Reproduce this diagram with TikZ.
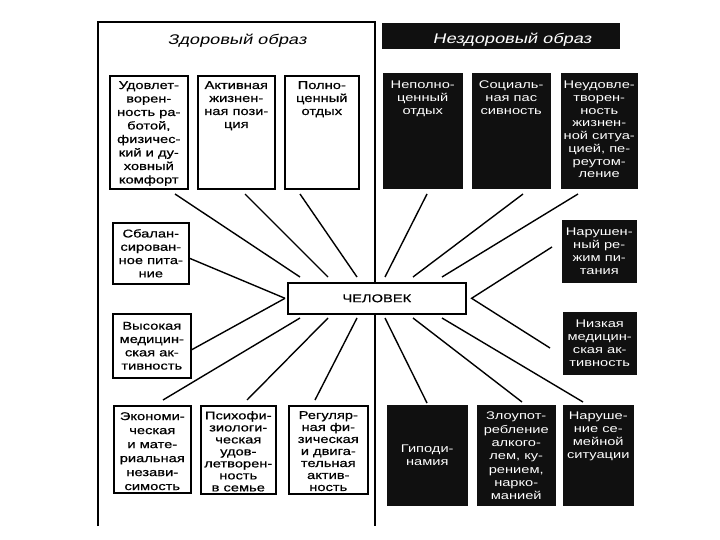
\documentclass[tikz,border=0pt]{standalone}
\usepackage{fontspec}
\setmainfont{Liberation Sans}
\newfontfamily\boxfont[FakeStretch=1.3,FakeBold=0.6]{Liberation Sans}
\newfontfamily\boxfontw[FakeStretch=1.32]{Liberation Sans}
\newfontfamily\headfont[FakeStretch=1.3,FakeSlant=0.22]{Liberation Sans}
\definecolor{boxblack}{HTML}{101010}
\tikzset{
  frame/.style={line width=1.8pt, black},
  wbox/.style={draw=black, line width=1.6pt, fill=white, anchor=north west, inner sep=0pt},
  bbox/.style={draw=boxblack, line width=0.5pt, fill=boxblack, anchor=north west, inner sep=0pt},
  wtxt/.style={font=\boxfont\fontsize{11.3}{#1}\selectfont, align=center, text=black, inner sep=0pt},
  wtxt/.default=13,
  btxt/.style={font=\boxfontw\fontsize{11.1}{#1}\selectfont, align=center, text=white, inner sep=0pt},
  btxt/.default=13,
  spoke/.style={line width=1.4pt, black},
}
\begin{document}
\begin{tikzpicture}[x=1pt,y=-1pt]
\useasboundingbox (0,0) rectangle (720,540);
% frame
\coordinate (f1) at (98,22);
\coordinate (f2) at (98,526);
\coordinate (f3) at (375,22);
\coordinate (f4) at (375,526);
\draw[frame] (f2) -- (f1) -- (f3) -- (f4);
% headers
\node[font=\headfont\fontsize{14}{16}\selectfont, text=black] (hl) at (237,41) {Здоровый образ};
\node[fill=boxblack, anchor=north west, minimum width=238pt, minimum height=26pt, inner sep=0pt] (hrbg) at (382,23) {};
\node[font=\headfont\fontsize{14}{16}\selectfont, text=white] (hr) at (512,40) {Нездоровый образ};
% top-left boxes
\node[wbox, minimum width=78pt, minimum height=113pt] (tl1) at (109,75) {};
\node[wtxt=13.5, anchor=north] (tl1t) at ([yshift=-6pt]tl1.north) {Удовлет-\\ворен-\\ность ра-\\ботой,\\физичес-\\кий и ду-\\ховный\\комфорт};
\node[wbox, minimum width=77pt, minimum height=113pt] (tl2) at (197,75) {};
\node[wtxt=13, anchor=north] (tl2t) at ([yshift=-6pt]tl2.north) {Активная\\жизнен-\\ная пози-\\ция};
\node[wbox, minimum width=74pt, minimum height=113pt] (tl3) at (284,75) {};
\node[wtxt=13, anchor=north] (tl3t) at ([yshift=-6pt]tl3.north) {Полно-\\ценный\\отдых};
% top-right boxes
\node[bbox, minimum width=79pt, minimum height=115pt] (tr1) at (383,73) {};
\node[btxt=13, anchor=north] (tr1t) at ([yshift=-8pt]tr1.north) {Неполно-\\ценный\\отдых};
\node[bbox, minimum width=78pt, minimum height=115pt] (tr2) at (472,73) {};
\node[btxt=13, anchor=north] (tr2t) at ([yshift=-8pt]tr2.north) {Социаль-\\ная пас\\сивность};
\node[bbox, minimum width=76pt, minimum height=115pt] (tr3) at (561,73) {};
\node[btxt=12.7, anchor=north] (tr3t) at ([yshift=-8pt]tr3.north) {Неудовле-\\творен-\\ность\\жизнен-\\ной ситуа-\\цией, пе-\\реутом-\\ление};
% middle-left boxes
\node[wbox, minimum width=76pt, minimum height=61pt] (ml1) at (112,222) {};
\node[wtxt=13.3] (ml1t) at (ml1.center) {Сбалан-\\сирован-\\ное пита-\\ние};
\node[wbox, minimum width=78pt, minimum height=64pt] (ml2) at (112,313) {};
\node[wtxt=13.3] (ml2t) at (ml2.center) {Высокая\\медицин-\\ская ак-\\тивность};
% middle-right boxes
\node[bbox, minimum width=74pt, minimum height=62pt] (mr1) at (562,220) {};
\node[btxt=13] (mr1t) at (mr1.center) {Нарушен-\\ный ре-\\жим пи-\\тания};
\node[bbox, minimum width=73pt, minimum height=62pt] (mr2) at (563,312) {};
\node[btxt=13] (mr2t) at (mr2.center) {Низкая\\медицин-\\ская ак-\\тивность};
% central box
\node[wbox, minimum width=178pt, minimum height=31pt] (man) at (287,282) {};
\node[wtxt] (mant) at (man.center) {ЧЕЛОВЕК};
% bottom-left boxes
\node[wbox, minimum width=77pt, minimum height=87pt] (bl1) at (113,405) {};
\node[wtxt=14, anchor=north] (bl1t) at ([yshift=-7pt]bl1.north) {Экономи-\\ческая\\и мате-\\риальная\\незави-\\симость};
\node[wbox, minimum width=75pt, minimum height=88pt] (bl2) at (200,405) {};
\node[wtxt=12, anchor=north] (bl2t) at ([yshift=-6pt]bl2.north) {Психофи-\\зиологи-\\ческая\\удов-\\летворен-\\ность\\в семье};
\node[wbox, minimum width=79pt, minimum height=88pt] (bl3) at (288,405) {};
\node[wtxt=12, anchor=north] (bl3t) at ([yshift=-6pt]bl3.north) {Регуляр-\\ная фи-\\зическая\\и двига-\\тельная\\актив-\\ность};
% bottom-right boxes
\node[bbox, minimum width=80pt, minimum height=100pt] (br1) at (387,405) {};
\node[btxt=13] (br1t) at (br1.center) {Гиподи-\\намия};
\node[bbox, minimum width=78pt, minimum height=100pt] (br2) at (477,405) {};
\node[btxt=13.3, anchor=north] (br2t) at ([yshift=-7pt]br2.north) {Злоупот-\\ребление\\алкого-\\лем, ку-\\рением,\\нарко-\\манией};
\node[bbox, minimum width=70pt, minimum height=100pt] (br3) at (563,405) {};
\node[btxt=13, anchor=north] (br3t) at ([yshift=-7pt]br3.north) {Наруше-\\ние се-\\мейной\\ситуации};
% spoke end points
\coordinate (lv) at ([xshift=-2pt]man.west);
\coordinate (rv) at ([xshift=5pt]man.east);
\coordinate (a1) at (175,194); \coordinate (a2) at (300,277);
\coordinate (b1) at (245,194); \coordinate (b2) at (328,277);
\coordinate (c1) at (300,194); \coordinate (c2) at (357,277);
\coordinate (d1) at (427,194); \coordinate (d2) at (385,277);
\coordinate (e1) at (523,194); \coordinate (e2) at (413,277);
\coordinate (g1) at (578,194); \coordinate (g2) at (442,277);
\coordinate (h1) at (300,318); \coordinate (h2) at (163,400);
\coordinate (i1) at (328,318); \coordinate (i2) at (247,400);
\coordinate (j1) at (357,318); \coordinate (j2) at (315,400);
\coordinate (k1) at (385,318); \coordinate (k2) at (427,403);
\coordinate (l1) at (413,318); \coordinate (l2) at (522,402);
\coordinate (m1) at (442,318); \coordinate (m2) at (583,402);
\coordinate (n1) at (552,247);
\coordinate (o1) at (550,348);
% spokes
\draw[spoke] (a1) -- (a2);
\draw[spoke] (b1) -- (b2);
\draw[spoke] (c1) -- (c2);
\draw[spoke] (d1) -- (d2);
\draw[spoke] (e1) -- (e2);
\draw[spoke] (g1) -- (g2);
\draw[spoke] (h1) -- (h2);
\draw[spoke] (i1) -- (i2);
\draw[spoke] (j1) -- (j2);
\draw[spoke] (k1) -- (k2);
\draw[spoke] (l1) -- (l2);
\draw[spoke] (m1) -- (m2);
\draw[spoke] ([yshift=-5pt]ml1.east) -- (lv);
\draw[spoke] ([yshift=-4pt]ml2.east) -- (lv);
\draw[spoke] (n1) -- (rv) -- (o1);
\end{tikzpicture}
\end{document}
